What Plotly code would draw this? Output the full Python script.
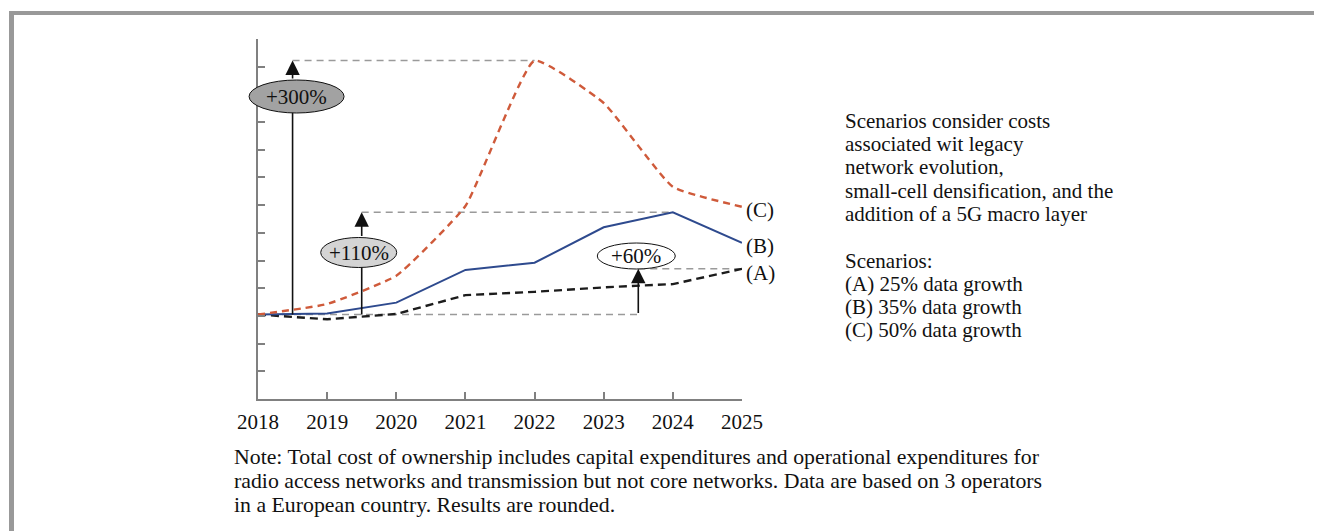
import plotly.graph_objects as go

# ---------------- data ----------------
years = [2018, 2019, 2020, 2021, 2022, 2023, 2024, 2025]
scenario_a = [3.05, 2.88, 3.07, 3.75, 3.87, 4.03, 4.15, 4.70]   # 25% data growth
scenario_b = [3.05, 3.09, 3.48, 4.66, 4.92, 6.20, 6.74, 5.64]   # 35% data growth
scenario_c = [3.05, 3.43, 4.45, 6.97, 12.22, 10.69, 7.66, 6.94]  # 50% data growth
tick_labels = [str(y) for y in years]
end_labels = ["(A)", "(B)", "(C)"]
pct_labels = ["+300%", "+110%", "+60%"]

side_lines = [
    "Scenarios consider costs",
    "associated wit legacy",
    "network evolution,",
    "small-cell densification, and the",
    "addition of a 5G macro layer",
    "",
    "Scenarios:",
    "(A) 25% data growth",
    "(B) 35% data growth",
    "(C) 50% data growth",
]
note_lines = [
    "Note: Total cost of ownership includes capital expenditures and operational expenditures for",
    "radio access networks and transmission but not core networks. Data are based on 3 operators",
    "in a European country. Results are rounded.",
]

# ---------------- layout geometry (page pixels) ----------------
OFF = 8                      # default body margin of the html page
PW, PH = 1322, 531
FW, FH = PW - OFF, PH - OFF
L, R, T, B = 258, 742, 39, 399   # plot area in page pixels
W, H = R - L, B - T
YMAX = 13
XMIN, XMAX = years[0], years[-1]


def px(x):
    return (x - L) / W


def py(y):
    return (B - y) / H


def xpix(xd):
    return L + (xd - XMIN) / (XMAX - XMIN) * W


def ypix(v):
    return B - v / YMAX * H


def vval(ypx):
    return (B - ypx) / H * YMAX


FONT = "Liberation Serif"
GRAY = "#9a9a9a"
AX = "#808080"

fig = go.Figure()

fig.add_trace(go.Scatter(x=years, y=scenario_a, mode="lines",
                         line=dict(color="#1c1c1c", width=2.4, dash="8px,5px"),
                         showlegend=False, hoverinfo="skip"))
fig.add_trace(go.Scatter(x=years, y=scenario_b, mode="lines",
                         line=dict(color="#2e4a8e", width=2),
                         showlegend=False, hoverinfo="skip"))
fig.add_trace(go.Scatter(x=years, y=scenario_c, mode="lines",
                         line=dict(color="#cf5a3a", width=2.4, dash="7px,5px",
                                   shape="spline", smoothing=0.4),
                         showlegend=False, hoverinfo="skip"))

base = scenario_a[0]
peak_c = max(scenario_c)
peak_b = max(scenario_b)
end_a = scenario_a[-1]
x_peak_c = years[scenario_c.index(peak_c)]
x_peak_b = years[scenario_b.index(peak_b)]

shapes = []
annotations = []

# dashed reference lines
for (x0, x1, yv) in [(XMIN, 2023.5, base), (2018.5, x_peak_c, peak_c),
                     (2019.5, x_peak_b, peak_b), (2023.5, XMAX, end_a)]:
    shapes.append(dict(type="line", xref="x", yref="y", x0=x0, x1=x1, y0=yv, y1=yv,
                       line=dict(color=GRAY, width=1.5, dash="7px,5px"), layer="below"))

# arrows + ellipses: (arrow x, target, ellipse center y px, w, h, dx, fill, label)
specs = [
    (2018.5, peak_c, 96.5, 95, 33, 4, "#a2a2a2", pct_labels[0]),
    (2019.5, peak_b, 252.5, 76, 30, -3, "#d4d4d4", pct_labels[1]),
    (2023.5, end_a, 256.0, 78, 26, -2, "#ffffff", pct_labels[2]),
]
for (xa, target, cy, ew, eh, dx, fill, lab) in specs:
    cx = xpix(xa) + dx
    top_px = cy - eh / 2
    bot_px = cy + eh / 2
    if ypix(target) < top_px:
        shapes.append(dict(type="line", xref="x", yref="y", x0=xa, x1=xa, y0=base,
                           y1=vval(cy), line=dict(color="#111", width=1.6), layer="above"))
        tail = vval(top_px)
    else:
        tail = base
    annotations.append(dict(x=xa, y=target, ax=xa, ay=tail, xref="x", yref="y",
                            axref="x", ayref="y", text="", showarrow=True,
                            arrowhead=2, arrowsize=1.8, arrowwidth=1.6,
                            arrowcolor="#111", standoff=0, startstandoff=0))
    shapes.append(dict(type="circle", xref="paper", yref="paper",
                       x0=px(cx - ew / 2), x1=px(cx + ew / 2),
                       y0=py(bot_px), y1=py(top_px),
                       fillcolor=fill, line=dict(color="#111", width=1), layer="above"))
    annotations.append(dict(x=px(cx), y=py(cy), xref="paper", yref="paper",
                            text=lab, showarrow=False, xanchor="center", yanchor="middle",
                            font=dict(family=FONT, size=21, color="#111")))

# end labels
for lab, series, ys in zip(end_labels, [scenario_a, scenario_b, scenario_c], [-4, -3, -3]):
    annotations.append(dict(x=XMAX, y=series[-1], xref="x", yref="y", text=lab,
                            showarrow=False, xanchor="left", yanchor="middle",
                            xshift=2, yshift=ys,
                            font=dict(family=FONT, size=21, color="#111")))

# side text block
y0_side, step_side = 120.7, 23.3
for i, line in enumerate(side_lines):
    if not line:
        continue
    annotations.append(dict(x=px(843), y=py(y0_side + i * step_side), xref="paper", yref="paper",
                            text=line, showarrow=False, xanchor="left", yanchor="middle",
                            font=dict(family=FONT, size=21, color="#111")))

# note
for i, line in enumerate(note_lines):
    annotations.append(dict(x=px(232), y=py(457 + i * 24), xref="paper", yref="paper",
                            text=line, showarrow=False, xanchor="left", yanchor="middle",
                            font=dict(family=FONT, size=21.8, color="#111")))

# frame (top and left gray bars)
shapes.append(dict(type="rect", xref="paper", yref="paper", x0=px(9), x1=px(PW + 20),
                   y0=py(15), y1=py(11), fillcolor="#999999", line=dict(width=0), layer="above"))
shapes.append(dict(type="rect", xref="paper", yref="paper", x0=px(9), x1=px(14),
                   y0=py(PH + 20), y1=py(11), fillcolor="#999999", line=dict(width=0), layer="above"))

fig.update_layout(
    width=FW, height=FH, autosize=False,
    margin=dict(l=L - OFF, r=FW - (R - OFF), t=T - OFF, b=FH - (B - OFF), pad=0),
    paper_bgcolor="white", plot_bgcolor="white",
    shapes=shapes, annotations=annotations, showlegend=False,
    xaxis=dict(range=[XMIN, XMAX], tickmode="array", tickvals=years, ticktext=tick_labels,
               ticks="inside", ticklen=7, tickwidth=1.5, tickcolor=AX,
               showline=True, linecolor=AX, linewidth=1.5, showgrid=False, zeroline=False,
               tickfont=dict(family=FONT, size=21, color="#111"), ticklabelstandoff=3),
    yaxis=dict(range=[0, YMAX], tick0=0, dtick=1, ticks="inside", ticklen=7,
               tickwidth=1.5, tickcolor=AX, showline=True, linecolor=AX, linewidth=1.5,
               showgrid=False, zeroline=False, showticklabels=False),
)

fig.write_html("out.html")
